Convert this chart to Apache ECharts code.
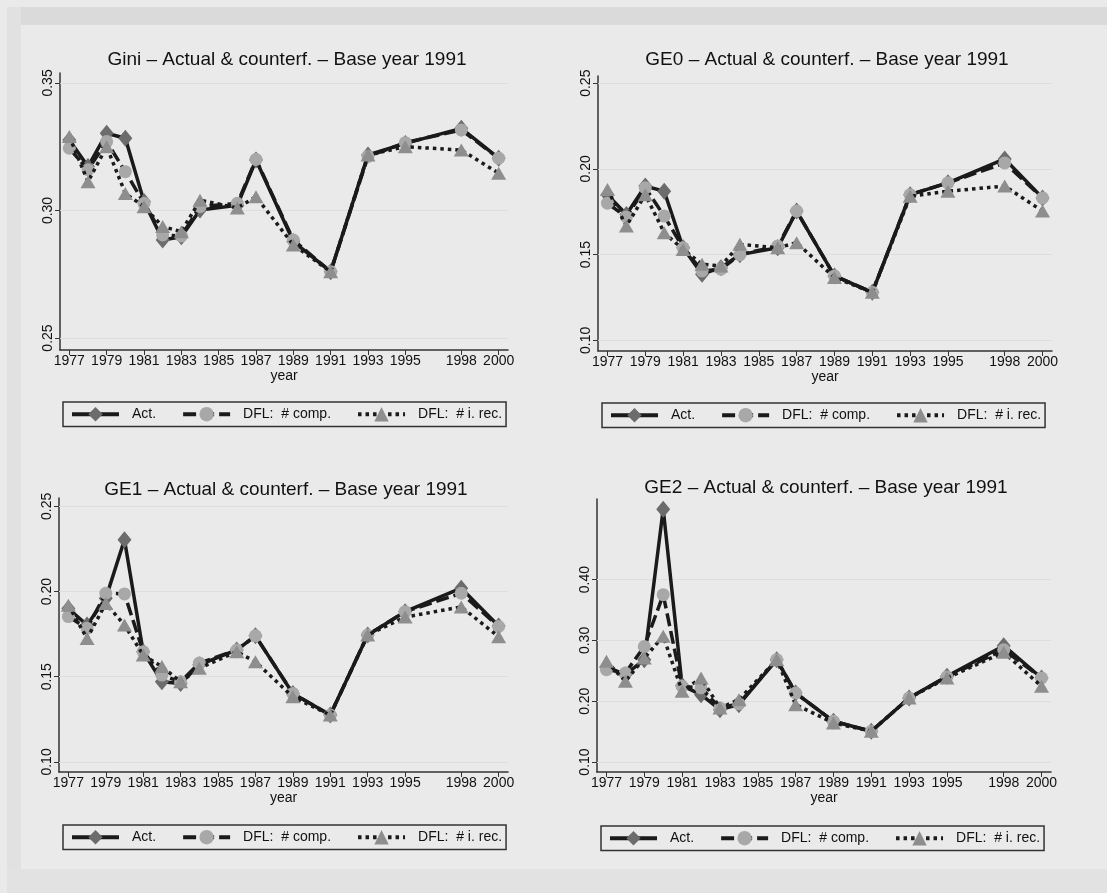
<!DOCTYPE html>
<html>
<head>
<meta charset="utf-8">
<script src="https://cdn.jsdelivr.net/npm/echarts@6/dist/echarts.min.js"></script>
<style>html,body{margin:0;padding:0;background:#eaeaea;}#c{width:1107px;height:893px;}</style>
</head>
<body>
<div id="c"></div>
<script>
// ---- data ----
const years = [1977,1978,1979,1980,1981,1982,1983,1984,1986,1987,1989,1991,1993,1995,1998,2000];
const xTickLabels = [1977,1979,1981,1983,1985,1987,1989,1991,1993,1995,1998,2000];

const giniAct  = [0.3276,0.3172,0.3303,0.3283,0.3035,0.2884,0.2897,0.3002,0.3020,0.3198,0.2878,0.2760,0.3218,0.3263,0.3322,0.3205];
const giniComp = [0.3244,0.3160,0.3270,0.3152,0.3028,0.2904,0.2900,0.3015,0.3028,0.3200,0.2884,0.2760,0.3212,0.3266,0.3316,0.3205];
const giniIrec = [0.3290,0.3113,0.3250,0.3067,0.3015,0.2937,0.2917,0.3040,0.3010,0.3054,0.2865,0.2760,0.3218,0.3250,0.3237,0.3146];

const ge0Act  = [0.1850,0.1734,0.1900,0.1870,0.1540,0.1386,0.1424,0.1500,0.1540,0.1754,0.1376,0.1280,0.1850,0.1919,0.2058,0.1831];
const ge0Comp = [0.1800,0.1720,0.1890,0.1725,0.1540,0.1405,0.1415,0.1500,0.1550,0.1754,0.1376,0.1280,0.1850,0.1919,0.2035,0.1831];
const ge0Irec = [0.1880,0.1667,0.1850,0.1628,0.1530,0.1444,0.1434,0.1560,0.1540,0.1570,0.1366,0.1280,0.1840,0.1870,0.1900,0.1754];

const ge1Act  = [0.1900,0.1804,0.1960,0.2304,0.1647,0.1470,0.1460,0.1570,0.1657,0.1740,0.1402,0.1275,0.1745,0.1882,0.2020,0.1798];
const ge1Comp = [0.1853,0.1784,0.1990,0.1986,0.1647,0.1510,0.1470,0.1580,0.1657,0.1740,0.1402,0.1275,0.1745,0.1882,0.1990,0.1795];
const ge1Irec = [0.1920,0.1725,0.1930,0.1804,0.1627,0.1560,0.1470,0.1550,0.1647,0.1588,0.1382,0.1275,0.1745,0.1850,0.1910,0.1735];

const ge2Act  = [0.2564,0.2437,0.2684,0.5160,0.2257,0.2108,0.1862,0.1944,0.2684,0.2136,0.1670,0.1506,0.2054,0.2410,0.2914,0.2383];
const ge2Comp = [0.2520,0.2465,0.2900,0.3753,0.2245,0.2220,0.1890,0.1960,0.2684,0.2136,0.1670,0.1506,0.2054,0.2400,0.2849,0.2383];
const ge2Irec = [0.2657,0.2328,0.2710,0.3070,0.2163,0.2383,0.1890,0.2026,0.2684,0.1944,0.1643,0.1506,0.2054,0.2383,0.2805,0.2245];

const titles = [
  'Gini \u2013 Actual & counterf. \u2013 Base year 1991',
  'GE0 \u2013 Actual & counterf. \u2013 Base year 1991',
  'GE1 \u2013 Actual & counterf. \u2013 Base year 1991',
  'GE2 \u2013 Actual & counterf. \u2013 Base year 1991'
];
const yTicks = [
  [0.25,0.30,0.35],
  [0.10,0.15,0.20,0.25],
  [0.10,0.15,0.20,0.25],
  [0.10,0.20,0.30,0.40]
];
const seriesNames = ['Act.', 'DFL:  # comp.', 'DFL:  # i. rec.'];
const panelData = [
  [giniAct, giniComp, giniIrec],
  [ge0Act, ge0Comp, ge0Irec],
  [ge1Act, ge1Comp, ge1Irec],
  [ge2Act, ge2Comp, ge2Irec]
];

// ---- layout ----
const grids = [
  {left: 60,  top: 73,  width: 448, height: 277},
  {left: 598, top: 76,  width: 454, height: 275},
  {left: 59,  top: 498, width: 449, height: 274},
  {left: 597, top: 499, width: 454, height: 273}
];
const yRanges = [[0.2453,0.3539],[0.0938,0.2542],[0.0941,0.2549],[0.0836,0.5327]];
const titlePos = [[282,45],[822,45],[281,475],[821,473]];
const legendPos = [[63,402],[602,403],[63,825],[601,826]];

const FONT = 'Liberation Sans, Arial, Helvetica, sans-serif';
const dark = '#1a1a1a';
const txt = '#111111';

const styles = [
  {symbol:'diamond', symbolSize:[14,17], color:'#6c6c6c', line:{color:dark,width:3.5,type:'solid'}},
  {symbol:'circle', symbolSize:13, color:'#a8a8a8', line:{color:dark,width:3.5,type:[13,5]}},
  {symbol:'triangle', symbolSize:[15,13], color:'#8e8e8e', line:{color:dark,width:3.5,type:[3.5,4]}}
];

const option = {
  backgroundColor: '#eaeaea',
  animation: false,
  graphic: [
    {type:'rect', shape:{x:7,y:7,width:1100,height:18}, style:{fill:'#dadada'}, silent:true, z:-10},
    {type:'rect', shape:{x:7,y:7,width:14,height:886}, style:{fill:'#e1e1e1'}, silent:true, z:-10},
    {type:'rect', shape:{x:7,y:869,width:1100,height:24}, style:{fill:'#e2e2e2'}, silent:true, z:-10}
  ],
  title: [], grid: [], xAxis: [], yAxis: [], legend: [], series: []
};

for (let p = 0; p < 4; p++) {
  option.title.push({
    text: titles[p], left: titlePos[p][0], top: titlePos[p][1], textAlign: 'center',
    textStyle: {fontFamily: FONT, fontSize: 19, fontWeight: 'normal', color: txt}
  });
  option.grid.push(Object.assign({containLabel:false}, grids[p]));
  option.xAxis.push({
    type: 'value', gridIndex: p, min: 1976.5, max: 2000.5,
    name: 'year', nameLocation: 'middle', nameGap: 18,
    nameTextStyle: {fontFamily: FONT, fontSize: 14, color: txt},
    axisLine: {show: true, onZero: false, lineStyle: {color: '#333', width: 1.5}},
    axisTick: {show: true, length: 5, customValues: xTickLabels, lineStyle: {color: '#333', width: 1}},
    axisLabel: {customValues: xTickLabels, margin: 4, fontFamily: FONT, fontSize: 14, color: txt,
      formatter: v => String(v)},
    splitLine: {show: false}
  });
  option.yAxis.push({
    type: 'value', gridIndex: p, min: yRanges[p][0], max: yRanges[p][1],
    axisLine: {show: true, onZero: false, lineStyle: {color: '#333', width: 1.5}},
    axisTick: {show: true, length: 5, customValues: yTicks[p], lineStyle: {color: '#333', width: 1}},
    axisLabel: {customValues: yTicks[p], rotate: 90, margin: 5, fontFamily: FONT, fontSize: 14, color: txt,
      formatter: v => v.toFixed(2)},
    splitLine: {show: false}
  });
  option.legend.push({
    left: legendPos[p][0], top: legendPos[p][1], orient: 'horizontal',
    data: seriesNames,
    itemWidth: 47, itemHeight: 18, itemGap: 25,
    padding: [5, 4, 5, 7],
    borderColor: '#333', borderWidth: 1.5, borderRadius: 0,
    backgroundColor: 'transparent',
    selectedMode: false,
    lineStyle: {width: 4},
    textStyle: {fontFamily: FONT, fontSize: 14, color: txt, padding: [0,0,0,8]}
  });
  for (let s = 0; s < 3; s++) {
    const st = styles[s];
    const ser = {
      type: 'line', name: seriesNames[s], xAxisIndex: p, yAxisIndex: p,
      data: years.map((y, i) => [y, panelData[p][s][i]]),
      symbol: st.symbol, symbolSize: st.symbolSize, showAllSymbol: true,
      itemStyle: {color: st.color, borderWidth: 0},
      lineStyle: st.line,
      emphasis: {disabled: true},
      z: 3 + s
    };
    if (s === 0) {
      ser.markLine = {
        silent: true, symbol: 'none', label: {show: false}, animation: false,
        lineStyle: {color: '#dedede', width: 1, type: 'solid'},
        data: yTicks[p].map(v => ({yAxis: v})),
        z: 1
      };
    }
    option.series.push(ser);
  }
}

const chart = echarts.init(document.getElementById('c'), null, {renderer: 'canvas'});
chart.setOption(option);
</script>
</body>
</html>
